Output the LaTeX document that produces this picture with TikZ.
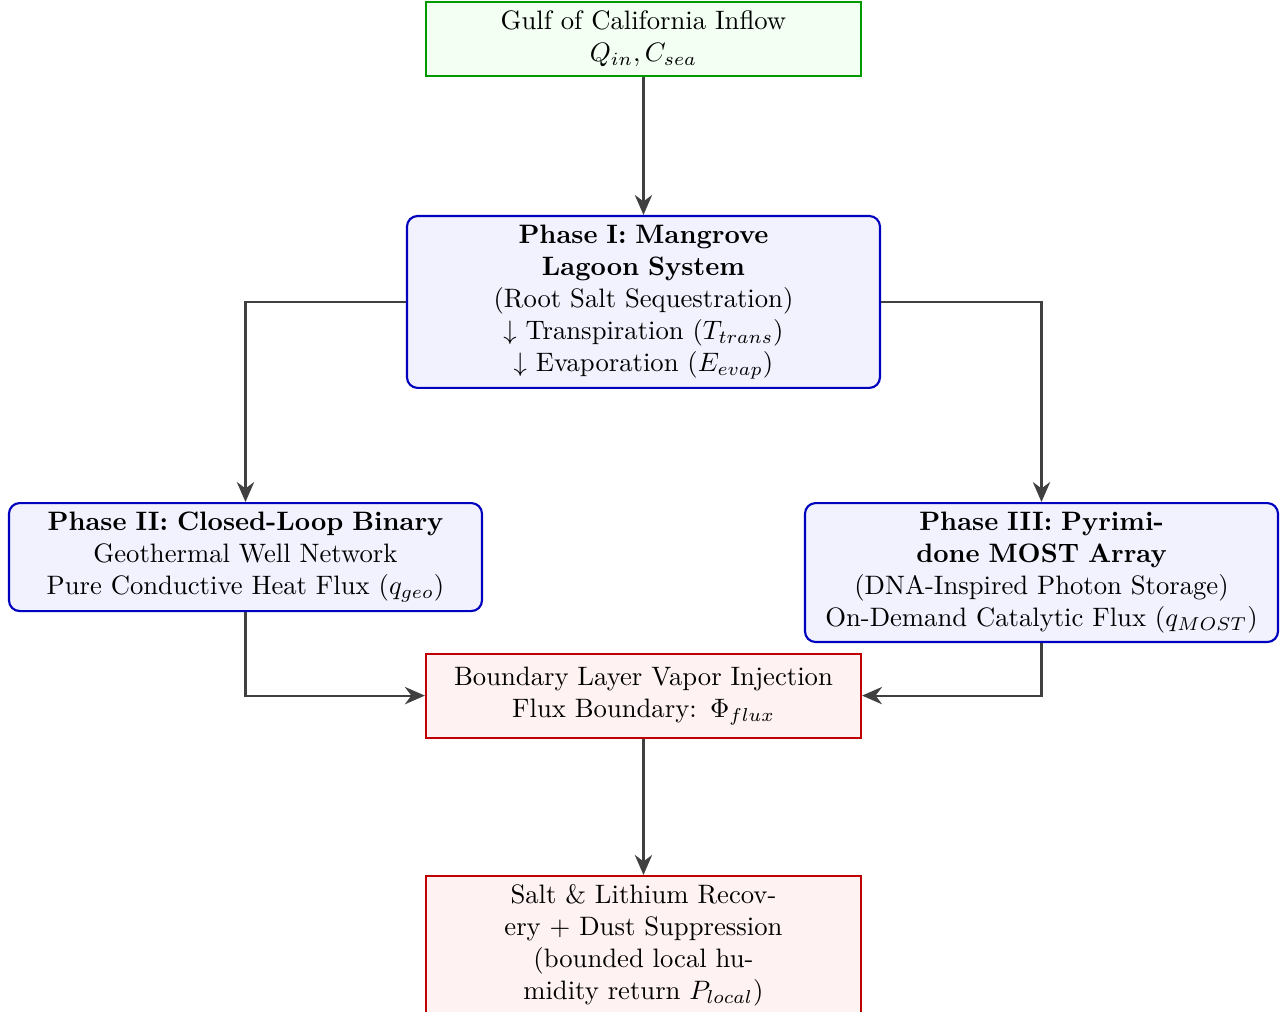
\documentclass[tikz,border=0pt]{standalone}
\usetikzlibrary{arrows.meta}
\definecolor{edgegray}{HTML}{404040}
\begin{document}
\begin{tikzpicture}[
  x=1pt, y=1pt,
  sourcebox/.style={draw=green!60!black, fill=green!5, thick, text width=5.5cm, align=center},
  phasebox/.style={draw=blue!75!black, fill=blue!5, thick, rounded corners=4pt, text width=6cm, align=center},
  outbox/.style={draw=red!75!black, fill=red!5, thick, text width=5.5cm, align=center, minimum height=31.5pt},
  flow/.style={draw=edgegray, thick, -{Stealth[length=7.5pt,width=6.5pt]}}
]
\useasboundingbox[clip] (0,0) rectangle (482.25,-379.125);

\node[sourcebox] (inflow) at (241.3,-14.6)
  {Gulf of California Inflow\\ $Q_{in}, C_{sea}$};

\node[phasebox, anchor=north] (mangrove) at (241.3,-80.6)
  {\textbf{Phase I: Mangrove Lagoon System}\\
   (Root Salt Sequestration)\\
   $\downarrow$ Transpiration ($T_{trans}$)\\
   $\downarrow$ Evaporation ($E_{evap}$)};

\node[phasebox, anchor=north] (geo) at (92.06,-188.25)
  {\textbf{Phase II: Closed-Loop Binary}\\
   Geothermal Well Network\\
   Pure Conductive Heat Flux ($q_{geo}$)};

\node[phasebox, anchor=north] (most) at (390.56,-188.25)
  {\textbf{Phase III: Pyrimidone MOST Array}\\
   (DNA-Inspired Photon Storage)\\
   On-Demand Catalytic Flux ($q_{MOST}$)};

\node[outbox, anchor=north] (vapor) at (241.3,-244.7)
  {Boundary Layer Vapor Injection\\
   Flux Boundary: $\Phi_{flux}$};

\node[outbox, anchor=north, text width=3.8cm, minimum width=163.2pt] (recovery) at (241.3,-328.1)
  {Salt \& Lithium Recovery + Dust Suppression (bounded local humidity return $P_{local}$)};

\draw[flow] (inflow) -- (mangrove);
\draw[flow] (mangrove.west) -| (geo.north);
\draw[flow] (mangrove.east) -| (most.north);
\draw[flow] (geo.south) |- (vapor.west);
\draw[flow] (most.south) |- (vapor.east);
\draw[flow] (vapor) -- (recovery);
\end{tikzpicture}
\end{document}
